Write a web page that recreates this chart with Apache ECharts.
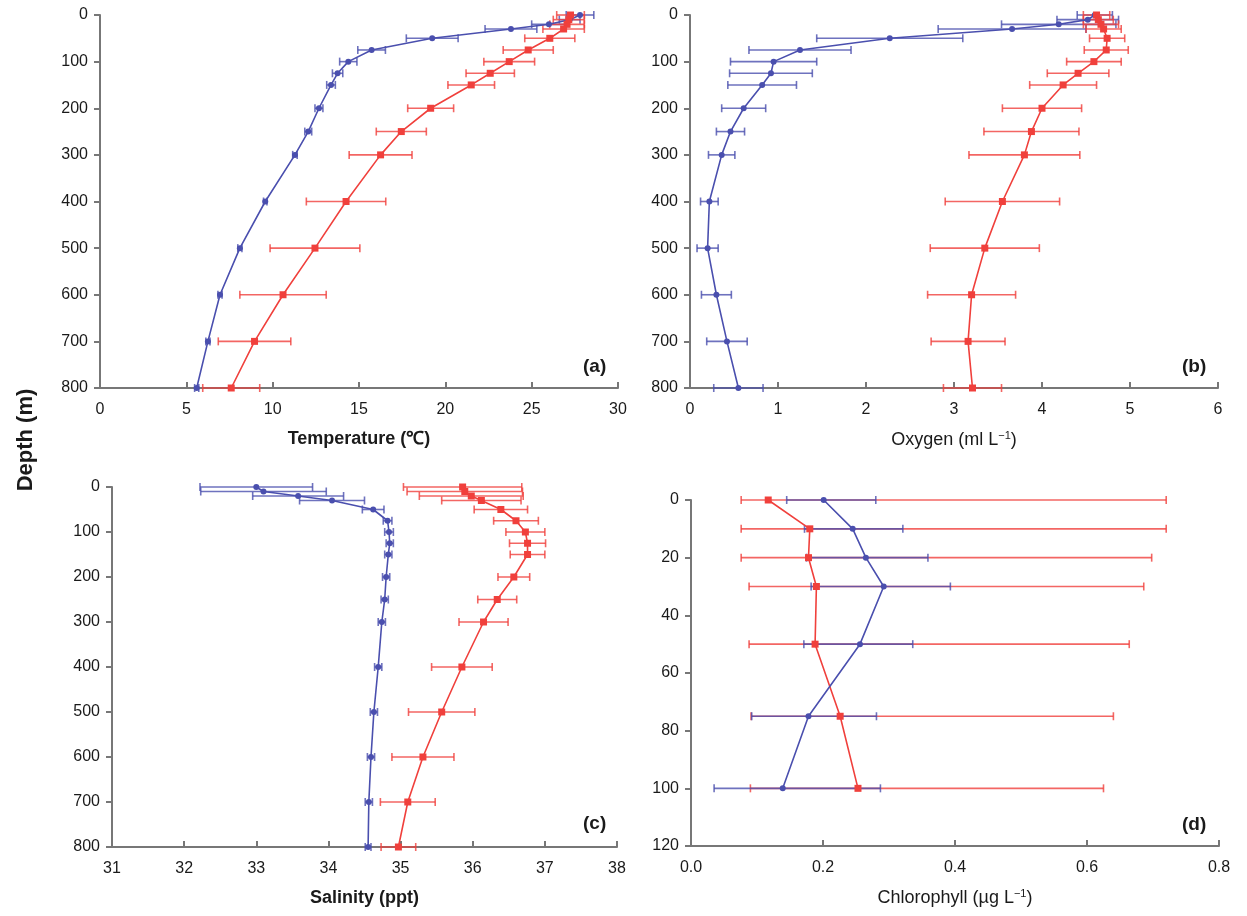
<!DOCTYPE html>
<html>
<head>
<meta charset="utf-8">
<script src="https://cdn.jsdelivr.net/npm/echarts@6/dist/echarts.min.js"></script>
<style>
  html, body { margin: 0; padding: 0; background: #fff; }
  #chart { width: 1247px; height: 916px; }
</style>
</head>
<body>
<div id="chart"></div>
<script>
// depth levels (m) for panels a-c
var depths = [0, 10, 20, 30, 50, 75, 100, 125, 150, 200, 250, 300, 400, 500, 600, 700, 800];

// (a) temperature
var tempBlue = [27.8, 27.2, 26.0, 23.8, 19.24, 15.73, 14.38, 13.76, 13.38, 12.68, 12.06, 11.29, 9.57, 8.1, 6.95, 6.25, 5.6];
var tempBlueSd = [0.8, 0.6, 1.0, 1.5, 1.5, 0.8, 0.5, 0.3, 0.25, 0.23, 0.2, 0.13, 0.1, 0.12, 0.12, 0.12, 0.12];
var tempRed = [27.25, 27.15, 27.05, 26.85, 26.05, 24.8, 23.7, 22.6, 21.5, 19.15, 17.45, 16.25, 14.25, 12.45, 10.6, 8.95, 7.6];
var tempRedSd = [0.8, 0.9, 1.0, 1.2, 1.45, 1.45, 1.47, 1.4, 1.35, 1.33, 1.45, 1.82, 2.3, 2.6, 2.5, 2.1, 1.65];

// (b) oxygen
var oxyBlue = [4.6, 4.52, 4.19, 3.66, 2.27, 1.25, 0.95, 0.92, 0.82, 0.61, 0.46, 0.36, 0.22, 0.2, 0.3, 0.42, 0.55];
var oxyBlueSd = [0.2, 0.35, 0.65, 0.84, 0.83, 0.58, 0.49, 0.47, 0.39, 0.25, 0.16, 0.15, 0.1, 0.12, 0.17, 0.23, 0.28];
var oxyRed = [4.62, 4.64, 4.67, 4.70, 4.74, 4.73, 4.59, 4.41, 4.24, 4.0, 3.88, 3.80, 3.55, 3.35, 3.2, 3.16, 3.21];
var oxyRedSd = [0.15, 0.17, 0.2, 0.2, 0.2, 0.25, 0.31, 0.35, 0.38, 0.45, 0.54, 0.63, 0.65, 0.62, 0.5, 0.42, 0.33];

// (c) salinity
var salBlue = [33.0, 33.1, 33.58, 34.05, 34.62, 34.82, 34.84, 34.85, 34.83, 34.8, 34.78, 34.74, 34.69, 34.63, 34.59, 34.56, 34.55];
var salBlueSd = [0.78, 0.87, 0.63, 0.45, 0.15, 0.06, 0.06, 0.05, 0.05, 0.05, 0.05, 0.05, 0.05, 0.05, 0.05, 0.05, 0.04];
var salRed = [35.86, 35.89, 35.98, 36.12, 36.39, 36.6, 36.73, 36.76, 36.76, 36.57, 36.34, 36.15, 35.85, 35.57, 35.31, 35.1, 34.97];
var salRedSd = [0.82, 0.8, 0.72, 0.55, 0.37, 0.31, 0.27, 0.25, 0.24, 0.22, 0.27, 0.34, 0.42, 0.46, 0.43, 0.38, 0.24];

// (d) chlorophyll, error bars are asymmetric: low / high ends
var chlDepths = [0, 10, 20, 30, 50, 75, 100];
var chlBlue = [0.201, 0.245, 0.265, 0.292, 0.256, 0.178, 0.139];
var chlBlueLo = [0.145, 0.172, 0.175, 0.182, 0.171, 0.092, 0.035];
var chlBlueHi = [0.280, 0.321, 0.359, 0.393, 0.336, 0.281, 0.287];
var chlRed = [0.117, 0.18, 0.178, 0.19, 0.188, 0.226, 0.253];
var chlRedLo = [0.076, 0.076, 0.076, 0.088, 0.088, 0.091, 0.09];
var chlRedHi = [0.72, 0.72, 0.698, 0.686, 0.664, 0.64, 0.625];

var BLUE = '#4a4fae';
var RED = '#f0403c';
var FONT = '"Liberation Sans Narrow", "Liberation Sans", Arial, sans-serif';

function errRender(params, api) {
    var y = api.value(1);
    var p1 = api.coord([api.value(2), y]);
    var p2 = api.coord([api.value(3), y]);
    var h = 4;
    var st = { stroke: api.visual('color'), lineWidth: 1.6, opacity: 0.8 };
    return {
        type: 'group',
        children: [
            { type: 'line', shape: { x1: p1[0], y1: p1[1], x2: p2[0], y2: p2[1] }, style: st },
            { type: 'line', shape: { x1: p1[0], y1: p1[1] - h, x2: p1[0], y2: p1[1] + h }, style: st },
            { type: 'line', shape: { x1: p2[0], y1: p2[1] - h, x2: p2[0], y2: p2[1] + h }, style: st }
        ]
    };
}

function sdData(vals, sd, dep) {
    return vals.map(function (v, i) { return [v, dep[i], v - sd[i], v + sd[i]]; });
}
function loHiData(vals, lo, hi, dep) {
    return vals.map(function (v, i) { return [v, dep[i], lo[i], hi[i]]; });
}
function lineData(vals, dep) {
    return vals.map(function (v, i) { return [v, dep[i]]; });
}

function errSeries(idx, color, data) {
    return {
        type: 'custom', xAxisIndex: idx, yAxisIndex: idx,
        renderItem: errRender, itemStyle: { color: color },
        encode: { x: [0, 2, 3], y: 1 }, data: data, z: 2, silent: true
    };
}
function lineSeries(idx, color, data, sym, size) {
    return {
        type: 'line', xAxisIndex: idx, yAxisIndex: idx, data: data,
        symbol: sym, symbolSize: size, showSymbol: true,
        lineStyle: { color: color, width: 1.6 },
        itemStyle: { color: color, borderWidth: 0 },
        z: 3, silent: true, animation: false
    };
}

var axisLine = { show: true, onZero: false, lineStyle: { color: '#777', width: 2 } };
var labelStyle = { color: '#1a1a1a', fontSize: 16, fontFamily: FONT };

function xAx(idx, min, max, interval, name, bold, fmt) {
    return {
        type: 'value', gridIndex: idx, min: min, max: max, interval: interval,
        position: 'bottom',
        axisLine: axisLine,
        axisTick: { show: true, inside: true, length: 6, lineStyle: { color: '#777', width: 2 } },
        axisLabel: Object.assign({ margin: 14, formatter: fmt }, labelStyle),
        splitLine: { show: false },
        name: name, nameLocation: 'middle', nameGap: 42,
        nameTextStyle: {
            color: '#1a1a1a', fontSize: 18, fontFamily: FONT, fontWeight: bold ? 'bold' : 'normal',
            rich: { sup: { fontSize: 11, padding: [0, 0, 9, 0], color: '#1a1a1a', fontFamily: FONT } }
        }
    };
}
function yAx(idx, max, interval) {
    return {
        type: 'value', gridIndex: idx, min: 0, max: max, interval: interval, inverse: true,
        axisLine: axisLine,
        axisTick: { show: true, inside: false, length: 6, lineStyle: { color: '#777', width: 2 } },
        axisLabel: Object.assign({ margin: 12 }, labelStyle),
        splitLine: { show: false }
    };
}

var chart = echarts.init(document.getElementById('chart'));
chart.setOption({
    animation: false,
    backgroundColor: '#fff',
    grid: [
        { left: 100, top: 15, width: 518, height: 373 },
        { left: 690, top: 15, width: 528, height: 373 },
        { left: 112, top: 487, width: 505, height: 360 },
        { left: 691, top: 500, width: 528, height: 346 }
    ],
    xAxis: [
        xAx(0, 0, 30, 5, 'Temperature (℃)', true),
        xAx(1, 0, 6, 1, 'Oxygen (ml L{sup|−1})', false),
        xAx(2, 31, 38, 1, 'Salinity (ppt)', true),
        xAx(3, 0, 0.8, 0.2, 'Chlorophyll (µg L{sup|−1})', false, function (v) { return v.toFixed(1); })
    ],
    yAxis: [yAx(0, 800, 100), yAx(1, 800, 100), yAx(2, 800, 100), yAx(3, 120, 20)],
    graphic: [
        { type: 'text', x: 26, y: 440, rotation: Math.PI / 2,
          style: { text: 'Depth (m)', fontSize: 22, fontWeight: 'bold', fill: '#1a1a1a', fontFamily: FONT,
                   align: 'center', verticalAlign: 'middle' } },
        { type: 'text', x: 583, y: 357, style: { text: '(a)', fontSize: 19, fontWeight: 'bold', fill: '#1a1a1a', fontFamily: FONT } },
        { type: 'text', x: 1182, y: 357, style: { text: '(b)', fontSize: 19, fontWeight: 'bold', fill: '#1a1a1a', fontFamily: FONT } },
        { type: 'text', x: 583, y: 814, style: { text: '(c)', fontSize: 19, fontWeight: 'bold', fill: '#1a1a1a', fontFamily: FONT } },
        { type: 'text', x: 1182, y: 815, style: { text: '(d)', fontSize: 19, fontWeight: 'bold', fill: '#1a1a1a', fontFamily: FONT } }
    ],
    series: [
        errSeries(0, BLUE, sdData(tempBlue, tempBlueSd, depths)),
        errSeries(0, RED, sdData(tempRed, tempRedSd, depths)),
        lineSeries(0, BLUE, lineData(tempBlue, depths), 'circle', 6),
        lineSeries(0, RED, lineData(tempRed, depths), 'rect', 7),

        errSeries(1, BLUE, sdData(oxyBlue, oxyBlueSd, depths)),
        errSeries(1, RED, sdData(oxyRed, oxyRedSd, depths)),
        lineSeries(1, BLUE, lineData(oxyBlue, depths), 'circle', 6),
        lineSeries(1, RED, lineData(oxyRed, depths), 'rect', 7),

        errSeries(2, BLUE, sdData(salBlue, salBlueSd, depths)),
        errSeries(2, RED, sdData(salRed, salRedSd, depths)),
        lineSeries(2, BLUE, lineData(salBlue, depths), 'circle', 6),
        lineSeries(2, RED, lineData(salRed, depths), 'rect', 7),

        errSeries(3, RED, loHiData(chlRed, chlRedLo, chlRedHi, chlDepths)),
        errSeries(3, BLUE, loHiData(chlBlue, chlBlueLo, chlBlueHi, chlDepths)),
        lineSeries(3, RED, lineData(chlRed, chlDepths), 'rect', 7),
        lineSeries(3, BLUE, lineData(chlBlue, chlDepths), 'circle', 6)
    ]
});
</script>
</body>
</html>
